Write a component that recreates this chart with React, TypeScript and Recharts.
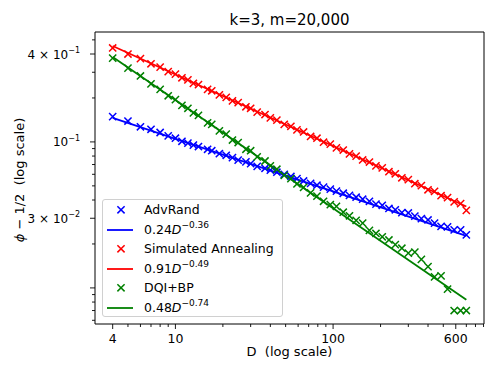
import React from 'react';
import { ComposedChart, Scatter, Line, XAxis, YAxis, ReferenceArea, Legend } from 'recharts';

const dValues = [4, 5, 6, 7, 8, 9, 10, 11, 12, 13, 14, 16, 17, 19, 21, 23, 25, 28, 30, 33, 37, 40, 44, 49, 54, 59, 65, 72, 79, 87, 96, 105, 116, 127, 140, 154, 170, 187, 205, 226, 248, 273, 300, 330, 363, 400, 440, 484, 532, 586, 644, 700];

const advRand = [0.149, 0.139, 0.127, 0.122, 0.116, 0.11, 0.106, 0.101, 0.098, 0.095, 0.093, 0.089, 0.087, 0.083, 0.081, 0.078, 0.075, 0.073, 0.071, 0.068, 0.066, 0.064, 0.062, 0.06, 0.058, 0.056, 0.054, 0.052, 0.0505, 0.049, 0.0475, 0.046, 0.0445, 0.043, 0.0418, 0.0405, 0.0392, 0.0375, 0.0368, 0.035, 0.0343, 0.0328, 0.0326, 0.031, 0.0298, 0.0292, 0.0278, 0.0264, 0.0262, 0.025, 0.025, 0.0231];

const simAnneal = [0.44, 0.4, 0.372, 0.343, 0.325, 0.303, 0.291, 0.275, 0.266, 0.252, 0.247, 0.229, 0.224, 0.21, 0.202, 0.191, 0.186, 0.174, 0.17, 0.16, 0.154, 0.146, 0.141, 0.132, 0.128, 0.121, 0.117, 0.109, 0.106, 0.0995, 0.0965, 0.091, 0.088, 0.0828, 0.08, 0.0752, 0.0728, 0.0685, 0.0664, 0.0625, 0.0605, 0.0568, 0.0552, 0.0517, 0.0502, 0.047, 0.0458, 0.0428, 0.0415, 0.0388, 0.0378, 0.034];

const dqiBp = [0.375, 0.32, 0.283, 0.25, 0.229, 0.207, 0.195, 0.178, 0.17, 0.158, 0.152, 0.135, 0.132, 0.119, 0.113, 0.103, 0.099, 0.089, 0.087, 0.079, 0.074, 0.0685, 0.065, 0.059, 0.056, 0.0515, 0.0488, 0.0448, 0.0425, 0.0392, 0.0372, 0.0362, 0.033, 0.0312, 0.029, 0.0278, 0.0248, 0.0236, 0.0224, 0.0213, 0.0198, 0.0187, 0.0173, 0.0176, 0.0157, 0.014, 0.0119, 0.0121, 0.0098, 0.007, 0.007, 0.007];

const fitD = [4, 700];
const advFit = [0.146, 0.0227];
const saFit = [0.454, 0.0361];
const dqiFit = [0.381, 0.0083];

const seriesNames = ['AdvRand', 'Simulated Annealing', 'DQI+BP'];
const fitCoefs = ['0.24', '0.91', '0.48'];
const fitExps = ['\u22120.36', '\u22120.49', '\u22120.74'];
const colors = ['#0000ff', '#ff0000', '#008000'];

const xTicks = [4, 5, 6, 7, 8, 9, 10, 20, 30, 40, 50, 60, 70, 80, 90, 100, 200, 300, 400, 500, 600, 700, 800, 900];
const xTickLabels: Record<string, string> = { '4': '4', '10': '10', '100': '100', '600': '600' };
const yTicks = [0.006, 0.007, 0.008, 0.009, 0.01, 0.02, 0.03, 0.04, 0.05, 0.06, 0.07, 0.08, 0.09, 0.1, 0.2, 0.3, 0.4, 0.5];
const yTickLabels: Record<string, [string, string]> = {
  '0.4': ['4 \u00d7 10', '\u22121'],
  '0.1': ['10', '\u22121'],
  '0.03': ['3 \u00d7 10', '\u22122'],
};

const xDomain = [3.09, 906];
const yDomain = [0.00566, 0.566];

const font = '"DejaVu Sans", sans-serif';

const toPoints = (xs: number[], ys: number[]) => xs.map((d, i) => ({ d, v: ys[i] }));

const advData = toPoints(dValues, advRand);
const saData = toPoints(dValues, simAnneal);
const dqiData = toPoints(dValues, dqiBp);
const advLine = toPoints(fitD, advFit);
const saLine = toPoints(fitD, saFit);
const dqiLine = toPoints(fitD, dqiFit);

const xMarker = (color: string) => (props: any) => {
  const { cx, cy } = props;
  if (cx == null || cy == null) return <g />;
  const r = 3.6;
  return (
    <path
      d={`M${cx - r},${cy - r}L${cx + r},${cy + r}M${cx - r},${cy + r}L${cx + r},${cy - r}`}
      stroke={color}
      strokeWidth={1.5}
      fill="none"
    />
  );
};

const XTick = (props: any) => {
  const { x, y, payload } = props;
  const label = xTickLabels[String(payload.value)];
  const len = label ? 5 : 3;
  return (
    <g>
      <line x1={x} x2={x} y1={y} y2={y + len} stroke="#000" strokeWidth={0.9} />
      {label && (
        <text x={x} y={y + 19} textAnchor="middle" fontSize={12.5} fontFamily={font} fill="#000">
          {label}
        </text>
      )}
    </g>
  );
};

const YTick = (props: any) => {
  const { x, y, payload } = props;
  const label = yTickLabels[String(payload.value)];
  const major = payload.value === 0.1 || payload.value === 0.01;
  const len = major || label ? 5 : 3;
  return (
    <g>
      <line x1={x - len} x2={x} y1={y} y2={y} stroke="#000" strokeWidth={0.9} />
      {label && (
        <text x={x - 15} y={y + 4.5} textAnchor="end" fontSize={12} fontFamily={font} fill="#000">
          {label[0]}
          <tspan dy={-5.5} fontSize={8}>{label[1]}</tspan>
        </text>
      )}
    </g>
  );
};

const LegendBox = () => (
  <div
    style={{
      width: 181,
      height: 118,
      boxSizing: 'border-box',
      border: '1px solid #d0d0d0',
      borderRadius: 3,
      background: 'rgba(255,255,255,0.8)',
      fontFamily: font,
      fontSize: 12.5,
      color: '#000',
    }}
  >
    {seriesNames.map((name, i) => (
      <React.Fragment key={name}>
        <div style={{ height: 19.5, display: 'flex', alignItems: 'center' }}>
          <svg width={41} height={19.5} style={{ flex: 'none' }}>
            <path d="M14.4,6.2L21.6,13.4M14.4,13.4L21.6,6.2" stroke={colors[i]} strokeWidth={1.5} fill="none" />
          </svg>
          <span>{name}</span>
        </div>
        <div style={{ height: 19.5, display: 'flex', alignItems: 'center' }}>
          <svg width={41} height={19.5} style={{ flex: 'none' }}>
            <line x1={4} x2={30} y1={10} y2={10} stroke={colors[i]} strokeWidth={1.8} />
          </svg>
          <span>
            {fitCoefs[i]}
            <i>D</i>
            <span style={{ fontSize: 9, position: 'relative', top: -6 }}>{fitExps[i]}</span>
          </span>
        </div>
      </React.Fragment>
    ))}
  </div>
);

export default function App() {
  return (
    <div style={{ position: 'absolute', left: 0, top: 0, width: 498, height: 374, background: '#fff' }}>
      <ComposedChart width={498} height={374} margin={{ top: 32, right: 14, bottom: 0, left: 0 }}>
        <XAxis
          dataKey="d"
          type="number"
          scale="log"
          domain={xDomain}
          allowDataOverflow
          ticks={xTicks}
          interval={0}
          tickSize={0}
          tickMargin={0}
          axisLine={false}
          tickLine={false}
          tick={<XTick />}
          height={50}
        />
        <YAxis
          dataKey="v"
          type="number"
          scale="log"
          domain={yDomain}
          allowDataOverflow
          ticks={yTicks}
          interval={0}
          tickSize={0}
          tickMargin={0}
          axisLine={false}
          tickLine={false}
          tick={<YTick />}
          width={95}
        />
        <ReferenceArea x1={xDomain[0]} x2={xDomain[1]} y1={yDomain[0]} y2={yDomain[1]} fill="none" stroke="#000" strokeWidth={1} fillOpacity={0} />
        <Scatter data={advData} dataKey="v" shape={xMarker(colors[0])} isAnimationActive={false} />
        <Line data={advLine} dataKey="v" type="linear" stroke={colors[0]} strokeWidth={1.8} dot={false} activeDot={false} isAnimationActive={false} />
        <Scatter data={saData} dataKey="v" shape={xMarker(colors[1])} isAnimationActive={false} />
        <Line data={saLine} dataKey="v" type="linear" stroke={colors[1]} strokeWidth={1.8} dot={false} activeDot={false} isAnimationActive={false} />
        <Scatter data={dqiData} dataKey="v" shape={xMarker(colors[2])} isAnimationActive={false} />
        <Line data={dqiLine} dataKey="v" type="linear" stroke={colors[2]} strokeWidth={1.8} dot={false} activeDot={false} isAnimationActive={false} />
        <Legend
          layout="vertical"
          align="center"
          verticalAlign="middle"
          content={() => <LegendBox />}
          wrapperStyle={{ left: 102, top: 199, width: 181, height: 118 }}
        />
      </ComposedChart>
      <div
        style={{
          position: 'absolute', left: 95, width: 389, top: 13, textAlign: 'center',
          fontFamily: font, fontSize: 15, lineHeight: '15px', color: '#000',
        }}
      >
        k=3, m=20,000
      </div>
      <div
        style={{
          position: 'absolute', left: 95, width: 389, top: 345, textAlign: 'center',
          fontFamily: font, fontSize: 13, lineHeight: '13px', whiteSpace: 'pre', color: '#000',
        }}
      >
        {'D  (log scale)'}
      </div>
      <div
        style={{
          position: 'absolute', left: 20 - 80, top: 180 - 7, width: 160, height: 14, textAlign: 'center',
          fontFamily: font, fontSize: 13, lineHeight: '14px', whiteSpace: 'pre', color: '#000',
          transform: 'rotate(-90deg)',
        }}
      >
        <i>{'\u03d5'}</i>{' \u2212 1/2  (log scale)'}
      </div>
    </div>
  );
}
